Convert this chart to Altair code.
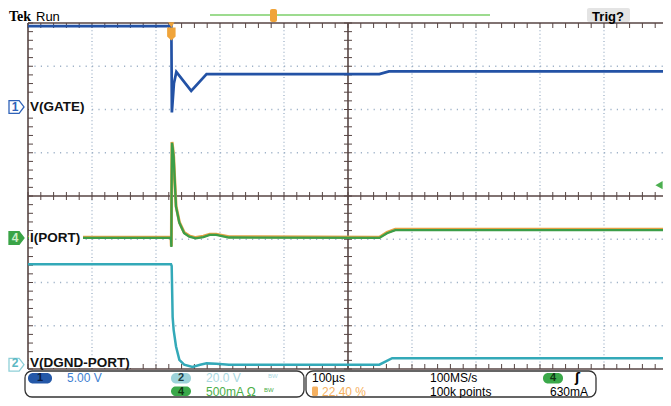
import altair as alt
import pandas as pd
import numpy as np

# ---------------- data (time in µs, trigger at 0; level in screen divisions) -------------
gate_t = [-224, -1, 0, 0.8, 4, 7.8, 31, 55, 325, 340, 776]
gate_v = [3.93, 3.93, 3.93, 1.93, 2.6, 2.87, 2.43, 2.82, 2.82, 2.88, 2.88]

port_t = [-224, -0.5, 0, 0.4, 1.0, 2.2, 3.6, 4.7, 7.3, 12.5, 20, 28, 38, 50, 60, 70, 90, 325, 337, 350, 776]
port_v = [-0.97, -0.97, -1.18, 0.2, 1.23, 1.1, 0.9, 0.53, -0.25, -0.62, -0.86, -0.94, -0.98,
          -0.95, -0.9, -0.9, -0.96, -0.97, -0.86, -0.79, -0.79]

dgnd_t = [-224, -0.5, 0.5, 1.5, 2.0, 3.6, 7.3, 12.5, 20, 33, 45, 55, 70, 90, 325, 345, 776]
dgnd_v = [-1.58, -1.58, -1.62, -2.4, -2.8, -3.1, -3.48, -3.79, -3.9, -3.95, -3.9, -3.87, -3.88,
          -3.9, -3.9, -3.75, -3.75]

ch_names = ["V(GATE)", "I(PORT)", "V(DGND-PORT)"]
ch_ids = ["1", "4", "2"]
ch_ground = [2.06, -0.97, -3.9]
trig_level = 0.25

title = "RESPONSE TO A 60 Ω LOAD IN HIGH POWER MODE"
readout_row1 = ["5.00 V", "20.0 V", "100µs", "100MS/s", "ʃ"]
readout_row2 = ["500mA Ω", "22.40 %", "100k points", "630mA"]

# ---------------- layout -------------------------------------------------------------
X_DOMAIN = [-224, 768.2]     # 100 µs / div, visible part of the 10 divisions
Y_DOMAIN = [-4, 4]
W, H = 635, 346
LEFT, TOP = 28, 23          # page position of plot origin
FONT = "Liberation Sans"

def px(x):
    return x - LEFT

def py(y):
    return y - TOP

def level_px(v):
    return (Y_DOMAIN[1] - v) / (Y_DOMAIN[1] - Y_DOMAIN[0]) * H

def time_px(t):
    return (t - X_DOMAIN[0]) / (X_DOMAIN[1] - X_DOMAIN[0]) * W

xs = alt.Scale(domain=X_DOMAIN, nice=False, zero=False)
ys = alt.Scale(domain=Y_DOMAIN, nice=False, zero=False)
one = pd.DataFrame({"k": [0]})

def X(f="t"):
    return alt.X(f + ":Q", scale=xs, axis=None)

def Y(f="v"):
    return alt.Y(f + ":Q", scale=ys, axis=None)

def trace(t, v, color, width, yoff=0.0):
    df = pd.DataFrame({"t": t, "v": v, "i": list(range(len(t)))})
    return alt.Chart(df).mark_line(color=color, strokeWidth=width, clip=True, yOffset=yoff).encode(
        x=X(), y=Y(), order="i:Q")

def txt(s, x, y, size=12, color="#000000", weight="normal", align="left", baseline="middle", font=FONT):
    return alt.Chart(one).mark_text(text=s, align=align, baseline=baseline, fontSize=size,
                                    color=color, fontWeight=weight, font=font).encode(
        x=alt.value(px(x)), y=alt.value(py(y)))

def box(x1, y1, x2, y2, fill="white", stroke=None, r=0, sw=1.0):
    kw = dict(fill=fill, cornerRadius=r)
    if stroke:
        kw.update(stroke=stroke, strokeWidth=sw)
    return alt.Chart(one).mark_rect(**kw).encode(
        x=alt.value(px(x1)), x2=alt.value(px(x2)), y=alt.value(py(y1)), y2=alt.value(py(y2)))

def hline(x1, x2, y, color, sw=1.0):
    return alt.Chart(one).mark_rule(color=color, strokeWidth=sw).encode(
        x=alt.value(x1), x2=alt.value(x2), y=alt.value(y), y2=alt.value(y))

def vline(x, y1, y2, color, sw=1.0):
    return alt.Chart(one).mark_rule(color=color, strokeWidth=sw).encode(
        x=alt.value(x), x2=alt.value(x), y=alt.value(y1), y2=alt.value(y2))

GRID = "#9fb2c8"
AXC = "#574543"
CX = time_px(276)

layers = []

# dotted graticule
vg = pd.DataFrame({"t": [X_DOMAIN[0] + 100 * k for k in range(1, 10) if k != 5]})
hg = pd.DataFrame({"v": [float(k) for k in range(-3, 4) if k != 0]})
layers.append(alt.Chart(vg).mark_rule(color=GRID, strokeWidth=1.3, strokeDash=[1, 2.6]).encode(
    x=X(), y=alt.value(0), y2=alt.value(H)))
layers.append(alt.Chart(hg).mark_rule(color=GRID, strokeWidth=1.3, strokeDash=[1.2, 5.2]).encode(
    y=Y(), x=alt.value(0), x2=alt.value(W)))

# centre cross
layers.append(vline(CX, 0, H, AXC, 1.6))
layers.append(hline(0, W, H / 2, AXC, 1.6))

# minor ticks
mt = pd.DataFrame({"t": [float(X_DOMAIN[0] + 20 * k) for k in range(50)]})
my = pd.DataFrame({"v": [round(-4 + 0.2 * k, 2) for k in range(41)]})
for y1, y2 in [(H / 2 - 4, H / 2 + 4), (0, 5), (H - 5, H)]:
    layers.append(alt.Chart(mt).mark_rule(color=AXC, strokeWidth=1).encode(
        x=X(), y=alt.value(y1), y2=alt.value(y2)))
for x1, x2 in [(CX - 4, CX + 4), (0, 5)]:
    layers.append(alt.Chart(my).mark_rule(color=AXC, strokeWidth=1).encode(
        y=Y(), x=alt.value(x1), x2=alt.value(x2)))

# border
layers.append(hline(0, W, 0, AXC, 1.6))
layers.append(hline(0, W, H, AXC, 1.6))
layers.append(vline(0, 0, H, AXC, 1.6))

# traces
layers.append(trace(dgnd_t, dgnd_v, "#33a9b8", 2.5))
layers.append(trace(port_t, port_v, "#e3a245", 3.0, -0.8))
layers.append(trace(port_t, port_v, "#3c9e48", 2.3))
layers.append(trace(gate_t, gate_v, "#2352a5", 2.7))

# channel labels and markers
label_w = [58, 54, 110]
label_dy = [0, 0, -1.5]
marker_stroke = ["#2f62b8", "#3aa447", "#8fd0d8"]
marker_fill = ["#ffffff", "#3aa447", "#ffffff"]
marker_text = ["#2f62b8", "#cdeec8", "#5bb8c4"]
tag = "M-1,-0.85L0.35,-0.85L1,0L0.35,0.85L-1,0.85Z"
for name, cid, g, lw, dy, sc, fc, tc in zip(ch_names, ch_ids, ch_ground, label_w, label_dy,
                                            marker_stroke, marker_fill, marker_text):
    yc = level_px(g)
    gd = pd.DataFrame({"v": [g]})
    layers.append(alt.Chart(one).mark_rect(fill="white").encode(
        x=alt.value(px(29)), x2=alt.value(px(29 + lw)),
        y=alt.value(yc - 7), y2=alt.value(min(yc + 7, H - 1))))
    layers.append(alt.Chart(gd).mark_text(text=name, align="left", baseline="middle", fontSize=13.5,
                                          fontWeight="bold", font=FONT, color="#111111", dy=dy).encode(
        x=alt.value(px(30)), y=Y()))
    layers.append(alt.Chart(gd).mark_point(shape=tag, size=225, filled=True, fill=fc, stroke=sc,
                                           strokeWidth=1.3, opacity=1).encode(
        x=alt.value(px(16.5)), y=Y()))
    layers.append(alt.Chart(gd).mark_text(text=cid, align="center", baseline="middle", fontSize=12,
                                          fontWeight="bold", font=FONT, color=tc, dy=dy).encode(
        x=alt.value(px(15)), y=Y()))

# trigger level arrow (right) and trigger position marker (top)
layers.append(alt.Chart(pd.DataFrame({"v": [trig_level]})).mark_point(
    shape="triangle-left", size=70, filled=True, color="#4caf50", opacity=1).encode(
    x=alt.value(W - 4), y=Y()))
trig_df = pd.DataFrame({"t": [0.0]})
layers.append(alt.Chart(trig_df).mark_point(shape="triangle-down", size=40, filled=True, color="#f0a43a",
                                            opacity=1).encode(x=X(), y=alt.value(2)))
layers.append(alt.Chart(trig_df).mark_point(shape="M-0.65,-1L0.65,-1L0.65,0.4L0,1L-0.65,0.4Z", size=170,
                                            filled=True, color="#f0a43a", opacity=1).encode(
    x=X(), y=alt.value(11)))

# header
layers.append(txt(title, 350, 6, size=17, weight="bold", align="center", baseline="alphabetic"))
layers.append(txt("Tek", 9, 21, size=14, weight="bold", font="Liberation Serif", baseline="alphabetic"))
layers.append(txt("Run", 36, 21, size=13, baseline="alphabetic"))
layers.append(hline(px(210), px(490), py(15), "#7ccf6a", 1.3))
layers.append(box(270, 9, 277, 22, fill="#f0a43a", r=2))
layers.append(box(587, 8, 630, 22, fill="#e4e4e4", r=2))
layers.append(txt("Trig?", 608, 21, size=13, weight="bold", align="center", baseline="alphabetic"))

# bottom readouts
R1, R2 = 377.8, 391.5
layers.append(box(25, 371, 304, 397, stroke="#333333", r=7, sw=1.3))
layers.append(box(306, 371, 596, 397, stroke="#333333", r=7, sw=1.3))
layers.append(box(28, 373, 52, 383.5, fill="#2458a8", r=5))
layers.append(txt("1", 40, R1, size=11, weight="bold", color="#0b1b40", align="center"))
layers.append(txt(readout_row1[0], 67, R1, color="#3d80d2"))
layers.append(box(171, 373, 191, 383.5, fill="#9dd3da", r=5))
layers.append(txt("2", 181, R1, size=11, weight="bold", color="#1c3c42", align="center"))
layers.append(txt(readout_row1[1], 206, R1, color="#a9d8df"))
layers.append(txt("BW", 268, R1 - 2, size=6, color="#a9d8df"))
layers.append(box(171, 386.5, 191, 396, fill="#3aa84a", r=5))
layers.append(txt("4", 181, R2, size=11, weight="bold", color="#0e3512", align="center"))
layers.append(txt(readout_row2[0], 206, R2, color="#4cae48"))
layers.append(txt("BW", 264, R2 - 2, size=6, color="#4cae48"))

layers.append(txt(readout_row1[2], 312, R1))
layers.append(txt(readout_row1[3], 430, R1))
layers.append(box(543, 373, 563, 383.5, fill="#3aa84a", r=5))
layers.append(txt("4", 553, R1, size=11, weight="bold", color="#0e3512", align="center"))
layers.append(txt(readout_row1[4], 575, R1, size=12, weight="bold", font="DejaVu Sans"))
layers.append(box(312, 386.5, 318, 396, fill="#f5b060", r=1.5))
layers.append(txt(readout_row2[1], 322, R2, color="#f5b060"))
layers.append(txt(readout_row2[2], 430, R2))
layers.append(txt(readout_row2[3], 550, R2))

chart = alt.layer(*layers).properties(
    width=W, height=H,
    padding={"left": 20, "top": 15, "right": 0, "bottom": 29},
    autosize=alt.AutoSizeParams(type="none"),
).configure_view(strokeWidth=0)

chart.save("out.html", embed_options={"renderer": "svg", "actions": False})
